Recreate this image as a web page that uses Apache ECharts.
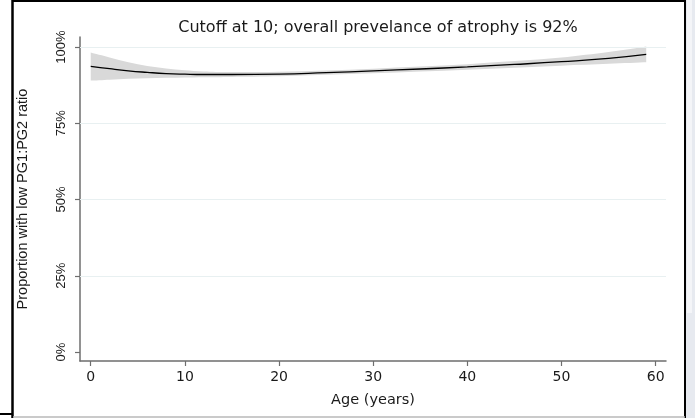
<!DOCTYPE html>
<html>
<head>
<meta charset="utf-8">
<script src="https://cdn.jsdelivr.net/npm/echarts@6/dist/echarts.min.js"></script>
<style>
  html, body { margin: 0; padding: 0; background: #ffffff; }
  #chart { width: 695px; height: 418px; }
</style>
</head>
<body>
<div id="chart"></div>
<script>
// Age grid and fitted prevalence (%) with 95% confidence limits
const ages  = [0, 2, 4, 6, 8, 10, 12, 15, 20, 25, 30, 35, 40, 45, 50, 55, 59];
const fit   = [93.7, 92.9, 92.2, 91.7, 91.3, 91.1, 91.0, 91.0, 91.1, 91.6, 92.2, 92.8, 93.5, 94.3, 95.2, 96.3, 97.6];
const lower = [89.0, 89.3, 89.6, 89.8, 89.9, 90.0, 90.1, 90.2, 90.4, 90.9, 91.4, 92.0, 92.6, 93.2, 93.9, 94.5, 95.0];
const upper = [98.2, 96.6, 95.0, 93.8, 93.0, 92.4, 92.0, 91.8, 91.9, 92.3, 92.9, 93.6, 94.4, 95.4, 96.6, 98.4, 100.2];

const xTicks = [0, 10, 20, 30, 40, 50, 60];
const yTicks = [0, 25, 50, 75, 100];

const titleText = 'Cutoff at 10; overall prevelance of atrophy is 92%';
const xName = 'Age (years)';
const yName = 'Proportion with low PG1:PG2 ratio';

const H_FONT = 'DejaVu Sans';
const V_FONT = 'Liberation Sans';

const pairs = (ys) => ages.map((a, i) => [a, ys[i]]);

// Catmull-Rom spline through pixel points, emitted as cubic bezier commands
function splineCommands(pts) {
  let d = '';
  for (let i = 0; i < pts.length - 1; i++) {
    const p0 = pts[Math.max(i - 1, 0)];
    const p1 = pts[i];
    const p2 = pts[i + 1];
    const p3 = pts[Math.min(i + 2, pts.length - 1)];
    const c1x = p1[0] + (p2[0] - p0[0]) / 6, c1y = p1[1] + (p2[1] - p0[1]) / 6;
    const c2x = p2[0] - (p3[0] - p1[0]) / 6, c2y = p2[1] - (p3[1] - p1[1]) / 6;
    d += ` C${c1x},${c1y} ${c2x},${c2y} ${p2[0]},${p2[1]}`;
  }
  return d;
}

// confidence band: upper limit left to right, lower limit right to left
function renderBand(params, api) {
  if (params.dataIndex !== 0) return null;
  const up = ages.map((a, i) => api.coord([a, upper[i]]));
  const lo = ages.map((a, i) => api.coord([a, lower[i]])).reverse();
  const d = `M${up[0][0]},${up[0][1]}` + splineCommands(up) +
            ` L${lo[0][0]},${lo[0][1]}` + splineCommands(lo) + ' Z';
  return {
    type: 'path',
    shape: { pathData: d },
    style: { fill: '#d9d9d9', stroke: null },
    silent: true
  };
}

const chart = echarts.init(document.getElementById('chart'), null, { renderer: 'canvas' });

chart.setOption({
  backgroundColor: '#ffffff',
  animation: false,
  title: {
    text: titleText,
    left: 373,
    top: 15,
    textAlign: 'center',
    textStyle: { fontFamily: H_FONT, fontSize: 16, fontWeight: 'normal', color: '#1a1a1a' }
  },
  grid: { left: 80, right: 29, top: 37, bottom: 57, containLabel: false },
  xAxis: {
    type: 'value',
    min: -1.14,
    max: 61.1,
    name: xName,
    nameLocation: 'middle',
    nameGap: 32,
    nameTextStyle: { fontFamily: H_FONT, fontSize: 14.5, color: '#1a1a1a' },
    axisLine: { onZero: false, lineStyle: { color: '#6e6e6e', width: 1.5 } },
    axisTick: { show: true, customValues: xTicks, length: 5, lineStyle: { color: '#6e6e6e', width: 1.2 } },
    axisLabel: { customValues: xTicks, margin: 9, fontFamily: H_FONT, fontSize: 14, color: '#1a1a1a' },
    splitLine: { show: false }
  },
  yAxis: {
    type: 'value',
    min: -2.95,
    max: 103.3,
    name: yName,
    nameLocation: 'middle',
    nameGap: 50,
    nameRotate: 90,
    nameTextStyle: { fontFamily: V_FONT, fontSize: 14.5, color: '#1a1a1a' },
    axisLine: { show: true, onZero: false, lineStyle: { color: '#6e6e6e', width: 1.5 } },
    axisTick: { show: true, customValues: yTicks, length: 5, lineStyle: { color: '#6e6e6e', width: 1.2 } },
    axisLabel: {
      customValues: yTicks,
      rotate: 90,
      margin: 12,
      fontFamily: V_FONT,
      fontSize: 13,
      color: '#1a1a1a',
      formatter: (v) => v + '%'
    },
    splitLine: { show: false }
  },
  series: [
    {
      // gridlines at the labelled percentages
      type: 'line',
      data: [],
      silent: true,
      markLine: {
        symbol: 'none',
        silent: true,
        label: { show: false },
        lineStyle: { color: '#e8f0f1', width: 1.2, type: 'solid' },
        data: yTicks.filter(v => v > 0).map(v => ({ yAxis: v }))
      }
    },
    {
      name: 'band',
      type: 'custom',
      data: pairs(upper),
      renderItem: renderBand,
      silent: true,
      z: 2
    },
    {
      name: 'fit',
      type: 'line',
      data: pairs(fit),
      smooth: true,
      symbol: 'none',
      lineStyle: { color: '#000000', width: 1.3 },
      z: 5
    }
  ],
  graphic: [
    // page frame around the figure
    { type: 'rect', shape: { x: 686, y: 0, width: 9, height: 418 }, style: { fill: '#e7eaf0' }, silent: true },
    { type: 'rect', shape: { x: 687, y: 0, width: 5, height: 313 }, style: { fill: '#f4f5f8' }, silent: true },
    { type: 'line', shape: { x1: 12, y1: 1, x2: 685, y2: 1 }, style: { stroke: '#000000', lineWidth: 2 }, silent: true },
    { type: 'line', shape: { x1: 12.5, y1: 0, x2: 12.5, y2: 418 }, style: { stroke: '#000000', lineWidth: 2.5 }, silent: true },
    { type: 'line', shape: { x1: 685, y1: 0, x2: 685, y2: 418 }, style: { stroke: '#000000', lineWidth: 2 }, silent: true },
    { type: 'line', shape: { x1: 0, y1: 414, x2: 12, y2: 414 }, style: { stroke: '#000000', lineWidth: 2 }, silent: true },
    { type: 'line', shape: { x1: 13, y1: 417, x2: 685, y2: 417 }, style: { stroke: '#b8b8b8', lineWidth: 1.5 }, silent: true }
  ]
});
</script>
</body>
</html>
